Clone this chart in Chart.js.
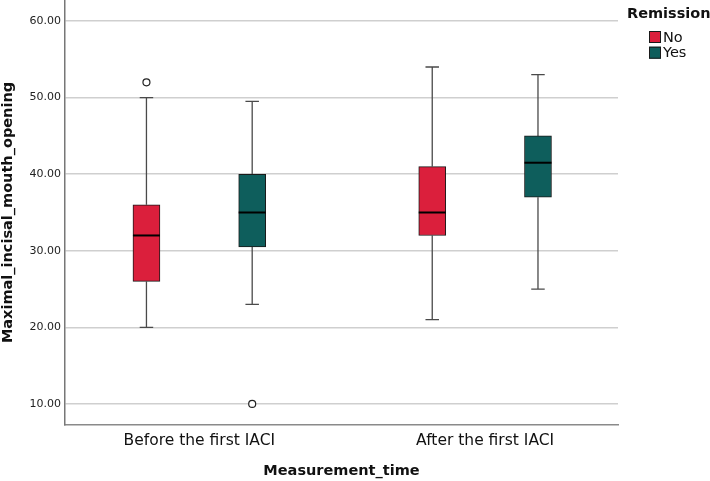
<!DOCTYPE html>
<html>
<head>
<meta charset="utf-8">
<script src="https://cdn.jsdelivr.net/npm/chart.js@4.4.1/dist/chart.umd.min.js"></script>
<style>
  html, body { margin: 0; padding: 0; background: #fff; }
  #wrap { width: 710px; height: 481px; }
</style>
</head>
<body>
<div id="wrap"><canvas id="chart" width="710" height="481"></canvas></div>
<script>
// Boxplot: mouth opening by measurement time, split by remission

const categories = ["Before the first IACI", "After the first IACI"];
const groupNames = ["No", "Yes"];
const legendTitle = "Remission";

// box statistics per category
const noMin = [20, 21];
const noQ1 = [26, 32];
const noMedian = [32, 35];
const noQ3 = [36, 41];
const noMax = [50, 54];
const noOutliers = [[52], []];

const yesMin = [23, 25];
const yesQ1 = [30.5, 37];
const yesMedian = [35, 41.5];
const yesQ3 = [40, 45];
const yesMax = [49.5, 53];
const yesOutliers = [[10], []];

const yTicks = [10, 20, 30, 40, 50, 60];

const groupColors = ["#db1f3c", "#0e5e5c"];
const groupShift = [-0.185, 0.185]; // dodge of the two boxes inside a category
const FONT = "'DejaVu Sans', sans-serif";

const groups = [
  { min: noMin, q1: noQ1, median: noMedian, q3: noQ3, max: noMax, outliers: noOutliers },
  { min: yesMin, q1: yesQ1, median: yesMedian, q3: yesQ3, max: yesMax, outliers: yesOutliers }
];

const boxDatasets = groups.map((g, gi) => ({
  type: "bar",
  label: groupNames[gi],
  data: categories.map((c, ci) => ({ x: ci + 1 + groupShift[gi], y: [g.q1[ci], g.q3[ci]] })),
  backgroundColor: groupColors[gi],
  borderColor: "#1a1a1a",
  borderWidth: 1,
  borderSkipped: false,
  barThickness: 27,
  grouped: false,
  stats: g
}));

const outlierPoints = [];
groups.forEach((g, gi) => {
  g.outliers.forEach((list, ci) => {
    list.forEach((v) => outlierPoints.push({ x: ci + 1 + groupShift[gi], y: v }));
  });
});

// whiskers behind the boxes, medians on top
const boxWhiskers = {
  id: "boxWhiskers",
  beforeDatasetsDraw(chart) {
    const ctx = chart.ctx;
    const y = chart.scales.y;
    chart.data.datasets.forEach((ds, di) => {
      if (!ds.stats) return;
      const s = ds.stats;
      chart.getDatasetMeta(di).data.forEach((bar, ci) => {
        const cap = bar.width * 0.25;
        const yMax = y.getPixelForValue(s.max[ci]);
        const yMin = y.getPixelForValue(s.min[ci]);
        ctx.save();
        ctx.strokeStyle = "#4a4a4a";
        ctx.lineWidth = 1.3;
        ctx.beginPath();
        ctx.moveTo(bar.x, yMax);
        ctx.lineTo(bar.x, y.getPixelForValue(s.q3[ci]));
        ctx.moveTo(bar.x, y.getPixelForValue(s.q1[ci]));
        ctx.lineTo(bar.x, yMin);
        ctx.moveTo(bar.x - cap, yMax);
        ctx.lineTo(bar.x + cap, yMax);
        ctx.moveTo(bar.x - cap, yMin);
        ctx.lineTo(bar.x + cap, yMin);
        ctx.stroke();
        ctx.restore();
      });
    });
  },
  afterDatasetsDraw(chart) {
    const ctx = chart.ctx;
    const y = chart.scales.y;
    chart.data.datasets.forEach((ds, di) => {
      if (!ds.stats) return;
      chart.getDatasetMeta(di).data.forEach((bar, ci) => {
        const py = y.getPixelForValue(ds.stats.median[ci]);
        ctx.save();
        ctx.strokeStyle = "#000";
        ctx.lineWidth = 2;
        ctx.beginPath();
        ctx.moveTo(bar.x - bar.width / 2, py);
        ctx.lineTo(bar.x + bar.width / 2, py);
        ctx.stroke();
        ctx.restore();
      });
    });
  }
};

// legend at the top right, like the SPSS output
const sideLegend = {
  id: "sideLegend",
  afterDraw(chart) {
    const ctx = chart.ctx;
    const left = chart.chartArea.right + 9;
    ctx.save();
    ctx.textAlign = "left";
    ctx.textBaseline = "middle";
    ctx.fillStyle = "#111";
    ctx.font = "bold 14.5px " + FONT;
    ctx.fillText(legendTitle, left, 14);
    ctx.font = "14.5px " + FONT;
    chart.data.datasets.forEach((ds) => {
      if (!ds.stats) return;
      const i = groupNames.indexOf(ds.label);
      const cy = 37 + i * 15.7;
      ctx.fillStyle = ds.backgroundColor;
      ctx.fillRect(left + 22, cy - 6, 12, 12);
      ctx.strokeStyle = "#1a1a1a";
      ctx.lineWidth = 1;
      ctx.strokeRect(left + 22.5, cy - 5.5, 11, 11);
      ctx.fillStyle = "#111";
      ctx.fillText(ds.label, left + 36, cy + 1);
    });
    ctx.restore();
  }
};

const ctx = document.getElementById("chart").getContext("2d");
new Chart(ctx, {
  type: "bar",
  data: {
    datasets: [
      ...boxDatasets,
      {
        type: "scatter",
        label: "outliers",
        data: outlierPoints,
        pointRadius: 3.5,
        pointBackgroundColor: "#fff",
        pointBorderColor: "#222",
        pointBorderWidth: 1.2
      }
    ]
  },
  options: {
    responsive: false,
    animation: false,
    events: [],
    layout: { autoPadding: false, padding: { left: 0, top: 0, right: 92, bottom: 0 } },
    plugins: {
      legend: { display: false },
      tooltip: { enabled: false }
    },
    scales: {
      x: {
        type: "linear",
        offset: false,
        min: 0.53,
        max: 2.465,
        afterBuildTicks: (axis) => { axis.ticks = categories.map((c, i) => ({ value: i + 1 })); },
        afterFit: (axis) => { axis.height = 56; axis.paddingLeft = 0; axis.paddingRight = 0; },
        grid: { display: false, drawTicks: false },
        border: { display: true, color: "#8a8a8a", width: 1.5 },
        ticks: {
          padding: 7,
          color: "#111",
          font: { family: FONT, size: 15.5 },
          callback: (v) => categories[v - 1] || ""
        },
        title: {
          display: true,
          text: "Measurement_time",
          color: "#111",
          font: { family: FONT, size: 14.5, weight: "bold" },
          padding: { top: 0, bottom: 1 }
        }
      },
      y: {
        type: "linear",
        min: 7.25,
        max: 62.75,
        afterBuildTicks: (axis) => { axis.ticks = yTicks.map((v) => ({ value: v })); },
        afterFit: (axis) => { axis.width = 65; axis.paddingTop = 0; axis.paddingBottom = 0; },
        grid: { color: "#cfcfcf", lineWidth: 1.5, drawTicks: false },
        border: { display: true, color: "#777", width: 1.5 },
        ticks: {
          padding: 4,
          color: "#222",
          font: { family: FONT, size: 11 },
          callback: (v) => Number(v).toFixed(2)
        },
        title: {
          display: true,
          text: "Maximal_incisal_mouth_opening",
          color: "#111",
          font: { family: FONT, size: 14.5, weight: "bold" },
          padding: { top: 0, bottom: 0 }
        }
      }
    }
  },
  plugins: [boxWhiskers, sideLegend]
});
</script>
</body>
</html>
